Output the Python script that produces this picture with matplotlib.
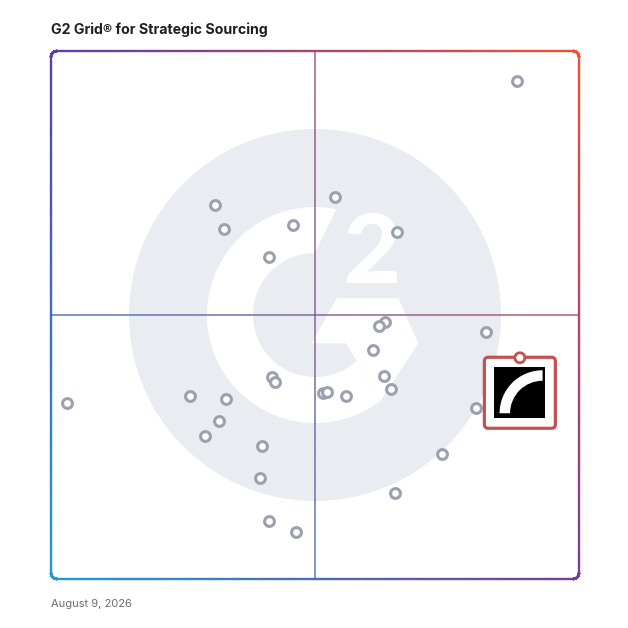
import numpy as np
import matplotlib
matplotlib.use('Agg')
import matplotlib.pyplot as plt
import matplotlib.colors as mcolors
from matplotlib.collections import LineCollection
from matplotlib.patches import Circle, Polygon, FancyBboxPatch, PathPatch, Wedge, Rectangle
from matplotlib.textpath import TextPath
from matplotlib.font_manager import FontProperties
from matplotlib.transforms import Affine2D

# satisfaction (x) vs market presence (y), both on a 0-100 scale
satisfaction = [88.3, 31.0, 32.7, 45.9, 53.8, 65.5, 41.3, 63.2, 62.1, 82.3,
                60.9, 63.1, 64.3, 41.9, 42.4, 51.5, 52.3, 55.9, 26.3, 33.1,
                31.8, 29.2, 40.0, 39.6, 3.0, 80.5, 74.1, 65.2, 41.3, 46.4]
presence = [94.3, 70.8, 66.3, 67.1, 72.4, 65.8, 61.0, 48.7, 47.9, 46.7,
            43.4, 38.5, 35.9, 38.2, 37.3, 35.2, 35.5, 34.7, 34.7, 34.0,
            30.0, 27.0, 25.1, 19.2, 33.3, 32.3, 23.7, 16.3, 11.0, 8.9]

# highlighted product (pin position)
featured_x = 88.8
featured_y = 41.9

title = 'G2 Grid® for Strategic Sourcing'
date_label = 'August 9, 2026'

ring_color = '#9ca1af'
red = '#c4514f'
corner_colors = {
    'tl': '#5a3db2', 'tr': '#f4502c',
    'bl': '#1e9bd7', 'br': '#7c3b9f',
}

fig = plt.figure(figsize=(6.28, 6.28), dpi=100)

# background layer in pixel coordinates (watermark logo)
bg = fig.add_axes([0, 0, 1, 1])
bg.set_xlim(0, 628)
bg.set_ylim(628, 0)
bg.axis('off')

cx, cy = 315, 315
bg.add_patch(Circle((cx, cy), 186, fc='#e9ecf0', ec='none', zorder=1))


def pt(r, deg):
    return (cx + r * np.cos(np.radians(deg)), cy - r * np.sin(np.radians(deg)))


outer = [pt(108, a) for a in np.linspace(78.5, 307.4, 160)]
inner = [pt(62, a) for a in np.linspace(312, 90.4, 120)]
bg.add_patch(Polygon(outer + inner, closed=True, fc='white', ec='none', zorder=2))
chevron = [(336.7, 298.3), (398.3, 298.3), (418.3, 343.3),
           (380.6, 400.8), (346, 343.3), (311.7, 343.3)]
bg.add_patch(Polygon(chevron, closed=True, fc='white', ec='none', zorder=2))

tp = TextPath((0, 0), '2', size=100, prop=FontProperties(family='Lato', weight='black'))
ext = tp.get_extents()
tr = (Affine2D().translate(-ext.x0, -ext.y0)
      .scale(50 / ext.width, -70 / ext.height).translate(347, 283))
bg.add_patch(PathPatch(tr.transform_path(tp), fc='white', ec='none', zorder=2))

# data layer
ax = fig.add_axes([51 / 628, 49 / 628, 528 / 628, 528 / 628])
ax.set_xlim(0, 100)
ax.set_ylim(0, 100)
ax.patch.set_alpha(0)
ax.axis('off')

c_tl, c_tr, c_bl, c_br = [np.array(mcolors.to_rgb(corner_colors[k])) for k in ('tl', 'tr', 'bl', 'br')]


def grad(x, y):
    u = np.clip(x / 100, 0, 1)
    v = np.clip(1 - y / 100, 0, 1)
    return (1 - u) * (1 - v) * c_tl + u * (1 - v) * c_tr + (1 - u) * v * c_bl + u * v * c_br


# rounded frame with corner gradient
rad = 6 * 100 / 528
pts = []
for (ccx, ccy, a0, a1) in [(100 - rad, 100 - rad, 90, 0), (100 - rad, rad, 0, -90),
                           (rad, rad, -90, -180), (rad, 100 - rad, 180, 90)]:
    for a in np.linspace(a0, a1, 12):
        pts.append((ccx + rad * np.cos(np.radians(a)), ccy + rad * np.sin(np.radians(a))))
pts.append(pts[0])
dense = []
for p, q in zip(pts[:-1], pts[1:]):
    for t in np.linspace(0, 1, 20, endpoint=False):
        dense.append((p[0] + (q[0] - p[0]) * t, p[1] + (q[1] - p[1]) * t))
dense.append(pts[0])
dense = np.array(dense)
segs = np.stack([dense[:-1], dense[1:]], axis=1)
cols = [grad(*s.mean(axis=0)) for s in segs]
ax.add_collection(LineCollection(segs, colors=cols, linewidths=1.7, clip_on=False,
                                 capstyle='round', zorder=2))

# quadrant dividers
for horiz in (True, False):
    t = np.linspace(0, 100, 200)
    line = np.column_stack([t, np.full_like(t, 50)]) if horiz else np.column_stack([np.full_like(t, 50), t])
    s = np.stack([line[:-1], line[1:]], axis=1)
    c = [grad(*m.mean(axis=0)) for m in s]
    ax.add_collection(LineCollection(s, colors=c, linewidths=1.1, alpha=0.9, zorder=2))

ax.scatter(satisfaction, presence, s=50, facecolors='white', edgecolors=ring_color,
           linewidths=2.2, zorder=3)

# featured product badge
px = 100 / 528
bx = featured_x
by = featured_y - 35 * px
bw = 71 * px
ax.add_patch(FancyBboxPatch((bx - bw / 2, by - bw / 2), bw, bw,
                            boxstyle='round,pad=0,rounding_size=%f' % (4 * px),
                            fc='white', ec=red, lw=2.3, zorder=4))
sq = 51 * px
ax.add_patch(Rectangle((bx - 0.6 * px - sq / 2, by - sq / 2), sq, sq, fc='black', ec='none', zorder=5))
ax.add_patch(Wedge((bx + 22.7 * px, by - 20.5 * px), 43 * px, 90, 180, width=10.5 * px,
                   fc='white', ec='none', zorder=6))
ax.add_patch(Circle((featured_x, featured_y), 5 * px, fc='white', ec=red, lw=2.0, zorder=7))

fig.text(51 / 628, 1 - 29.5 / 628, title, ha='left', va='center', fontsize=10.2,
         fontweight='bold', family='Inter', color='#1f1f1f')
fig.text(51 / 628, 1 - 604 / 628, date_label, ha='left', va='center', fontsize=8,
         family='Inter', color='#6b6b6b')

fig.savefig('out.png', dpi=100)
